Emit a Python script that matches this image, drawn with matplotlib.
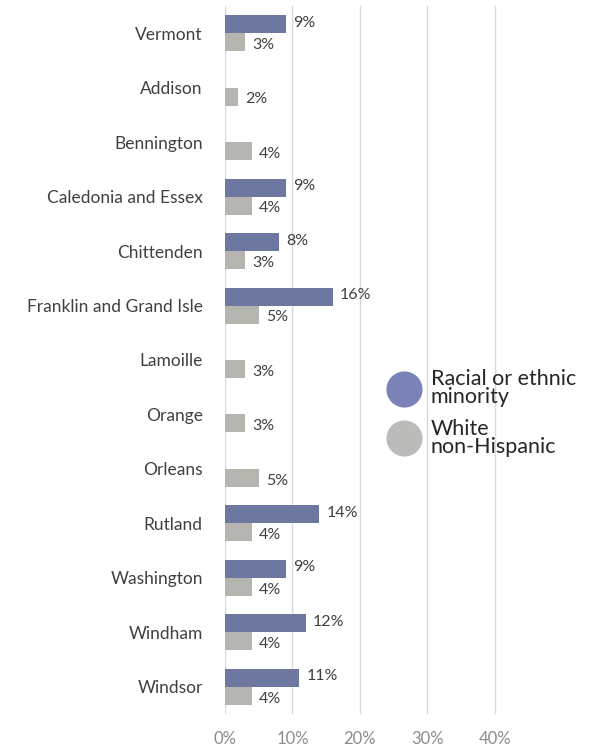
import matplotlib
matplotlib.use("Agg")
import matplotlib.pyplot as plt
from matplotlib.lines import Line2D
import numpy as np

plt.rcParams['font.family'] = ['Lato', 'DejaVu Sans']

regions = ["Vermont", "Addison", "Bennington", "Caledonia and Essex", "Chittenden",
           "Franklin and Grand Isle", "Lamoille", "Orange", "Orleans", "Rutland",
           "Washington", "Windham", "Windsor"]
minority = [9, None, None, 9, 8, 16, None, None, None, 14, 9, 12, 11]
white = [3, 2, 4, 4, 3, 5, 3, 3, 5, 4, 4, 4, 4]
x_ticks = [0, 10, 20, 30, 40]
series_names = ["Racial or ethnic\nminority", "White\nnon-Hispanic"]

c_min = "#6E77A0"
c_white = "#B5B4AE"
txt = "#404040"

fig = plt.figure(figsize=(6.04, 7.46), dpi=100)
ax = fig.add_axes([225/604, 1 - 714/746, (497-225)/604, (714-6)/746])

y = np.arange(len(regions))
h = 0.33
for i, (m, w) in enumerate(zip(minority, white)):
    if m is not None:
        ax.barh(i - h/2, m, height=h, color=c_min, zorder=3)
        ax.annotate(f"{m}%", (m, i - h/2), xytext=(5, 1), textcoords="offset points",
                    va="center", ha="left", fontsize=11.5, color=txt)
    ax.barh(i + h/2, w, height=h, color=c_white, zorder=3)
    ax.annotate(f"{w}%", (w, i + h/2), xytext=(5, -2), textcoords="offset points",
                va="center", ha="left", fontsize=11.5, color=txt)

ax.set_ylim(len(regions) - 0.5, -0.5)
ax.set_xlim(0, 40.3)
ax.set_xticks(x_ticks)
ax.set_xticklabels([f"{t}%" for t in x_ticks], color="#8C8C8C", fontsize=12)
ax.set_yticks(y)
ax.set_yticklabels(regions, color=txt, fontsize=12.5)
ax.tick_params(axis="both", length=0)
ax.tick_params(axis="x", pad=12)
ax.tick_params(axis="y", pad=16)
for s in ax.spines.values():
    s.set_visible(False)
ax.grid(axis="x", color="#D9D9D9", linewidth=1, zorder=0)
ax.set_axisbelow(True)

handles = [Line2D([], [], marker="o", linestyle="none", markersize=25, color="#7A82B8"),
           Line2D([], [], marker="o", linestyle="none", markersize=25, color="#BBBCB9")]
leg = fig.legend(handles, series_names, loc="center left", bbox_to_anchor=(379/604, 1 - 413/746),
                 frameon=False, fontsize=15.5, labelspacing=0.55, handletextpad=0.5,
                 borderaxespad=0, handlelength=1.5)
for t in leg.get_texts():
    t.set_color("#262626")
    t.set_linespacing(0.85)

fig.savefig("out.png", dpi=100)
